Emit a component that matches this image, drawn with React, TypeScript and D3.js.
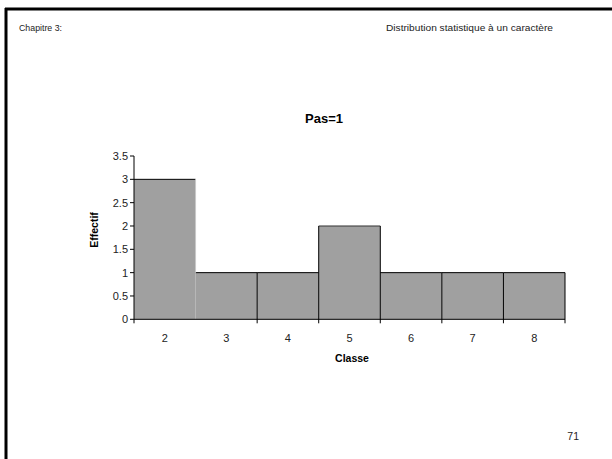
import React from "react";
import * as d3 from "d3";

// Histogram data: class values and their counts (effectif)
const classes = [2, 3, 4, 5, 6, 7, 8];
const counts = [3, 1, 1, 2, 1, 1, 1];
const yTicks = [0, 0.5, 1, 1.5, 2, 2.5, 3, 3.5];
const yTickLabels = ["0", "0.5", "1", "1.5", "2", "2.5", "3", "3.5"];

const title = "Pas=1";
const xTitle = "Classe";
const yTitle = "Effectif";
const headerLeft = "Chapitre 3:";
const headerRight = "Distribution statistique à un caractère";
const pageNumber = "71";

const W = 612;
const H = 459;
const FONT = "Arial, 'Liberation Sans', sans-serif";

export default function App() {
  const x = d3.scaleLinear().domain([1.5, 8.5]).range([134, 565]);
  const y = d3.scaleLinear().domain([0, 3.5]).range([319.3, 156]);

  const bars = classes.map((c, i) => ({
    c,
    v: counts[i],
    x0: x(c - 0.5),
    x1: x(c + 0.5),
  }));

  // Boundaries between adjacent bins
  const boundaries = classes.slice(1).map((c, i) => ({
    xb: x(c - 0.5),
    hiTop: Math.max(counts[i], counts[i + 1]),
    loTop: Math.min(counts[i], counts[i + 1]),
    idx: i,
  }));

  return (
    <svg
      width={W}
      height={H}
      style={{ position: "absolute", left: 0, top: 0, background: "#fff" }}
      fontFamily={FONT}
    >
      <rect x={0} y={0} width={W} height={H} fill="#fff" />
      {/* page frame */}
      <line x1={5} x2={W} y1={9} y2={9} stroke="#000" strokeWidth={3} />
      <line x1={6} x2={6} y1={8} y2={H} stroke="#000" strokeWidth={3} />

      {/* page header */}
      <text x={19} y={30.5} fontSize={8.8} fill="#222" textLength={43} lengthAdjust="spacingAndGlyphs">
        {headerLeft}
      </text>
      <text x={386} y={30.5} fontSize={8.8} fill="#222" textLength={167} lengthAdjust="spacingAndGlyphs">
        {headerRight}
      </text>

      {/* chart title */}
      <text x={324} y={123} fontSize={13} fontWeight="bold" textAnchor="middle" fill="#000">
        {title}
      </text>

      {/* bars */}
      {bars.map((b) => (
        <rect
          key={b.c}
          x={b.x0}
          y={y(b.v)}
          width={b.x1 - b.x0}
          height={y(0) - y(b.v)}
          fill="#a0a0a0"
        />
      ))}
      {/* bar tops */}
      {bars.map((b) => (
        <line
          key={"t" + b.c}
          x1={b.x0}
          x2={b.x1}
          y1={y(b.v)}
          y2={y(b.v)}
          stroke={b.v === 2 ? "#333" : "#000"}
          strokeWidth={1}
        />
      ))}
      {/* bin separators */}
      {boundaries.map((s) =>
        s.idx === 0 ? (
          <line
            key={"s" + s.idx}
            x1={s.xb}
            x2={s.xb}
            y1={y(s.hiTop)}
            y2={y(s.loTop)}
            stroke="#c8c8c8"
            strokeWidth={1}
          />
        ) : (
          <line
            key={"s" + s.idx}
            x1={s.xb}
            x2={s.xb}
            y1={y(s.hiTop)}
            y2={y(0) + 4}
            stroke="#000"
            strokeWidth={1}
          />
        )
      )}
      {/* last bar right edge */}
      <line
        x1={x(8.5)}
        x2={x(8.5)}
        y1={y(counts[counts.length - 1])}
        y2={y(0) + 4}
        stroke="#000"
        strokeWidth={1}
      />

      {/* y axis */}
      <line x1={x(1.5)} x2={x(1.5)} y1={y(3.5)} y2={y(0) + 4} stroke="#000" strokeWidth={1} />
      {yTicks.map((t, i) => (
        <g key={"yt" + t}>
          <line x1={x(1.5) - 4} x2={x(1.5)} y1={y(t)} y2={y(t)} stroke="#000" />
          <text
            x={x(1.5) - 6}
            y={y(t)}
            dy="0.36em"
            fontSize={11}
            textAnchor="end"
            fill="#222"
          >
            {yTickLabels[i]}
          </text>
        </g>
      ))}

      {/* x axis */}
      <line x1={x(1.5)} x2={x(8.5)} y1={y(0)} y2={y(0)} stroke="#000" strokeWidth={1} />
      {classes.map((c) => (
        <text key={"xl" + c} x={x(c)} y={341.5} fontSize={11} textAnchor="middle" fill="#222">
          {c}
        </text>
      ))}

      {/* axis titles */}
      <text x={352} y={362} fontSize={10.5} fontWeight="bold" textAnchor="middle" fill="#000">
        {xTitle}
      </text>
      <text
        transform="translate(97.5,230) rotate(-90)"
        fontSize={10.5}
        fontWeight="bold"
        textAnchor="middle"
        fill="#000"
      >
        {yTitle}
      </text>

      {/* page number */}
      <text x={579} y={440} fontSize={10.5} textAnchor="end" fill="#222">
        {pageNumber}
      </text>
    </svg>
  );
}
